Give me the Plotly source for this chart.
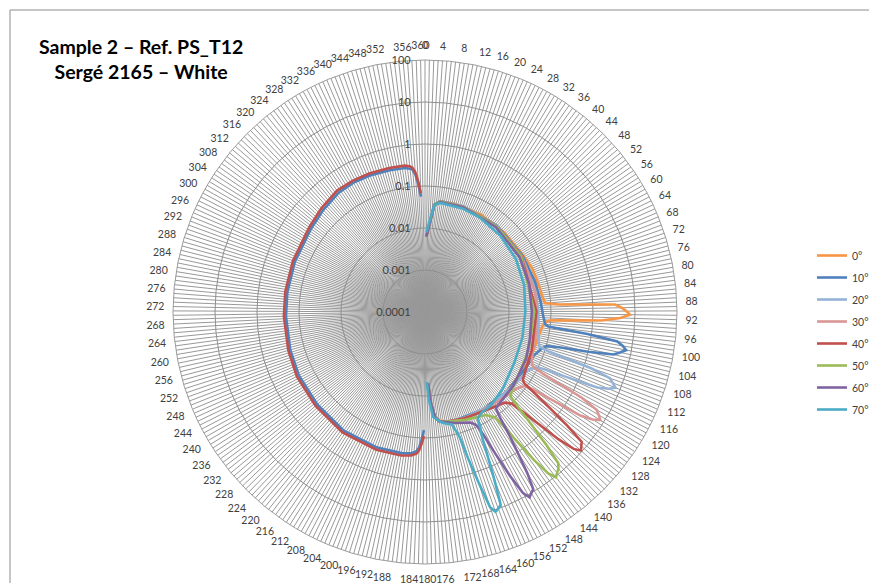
import plotly.graph_objects as go

# ---------------- data ----------------
categories = [str(i) for i in range(361)]
angle_labels = [str(i) if i % 4 == 0 else "" for i in range(361)]
radial_ticks = [0.0001, 0.001, 0.01, 0.1, 1, 10, 100]
radial_labels = ["0.0001", "0.001", "0.01", "0.1", "1", "10", "100"]
series_names = ["0°", "10°", "20°", "30°", "40°", "50°", "60°", "70°"]

s0_deg = [1, 5, 8, 15, 30, 45, 60, 68, 78, 83, 86, 87, 88, 89, 90, 91, 92, 93, 94, 95, 97, 102, 110, 120, 135, 150, 160, 168, 172, 175, 177, 178]
s0_val = [0.0062, 0.036, 0.045, 0.047, 0.047, 0.047, 0.05, 0.057, 0.062, 0.066, 0.073, 0.15, 3.4, 4.8, 6.2, 7.6, 4.5, 1.6, 0.1, 0.075, 0.066, 0.058, 0.055, 0.053, 0.051, 0.05, 0.049, 0.047, 0.043, 0.033, 0.014, 0.005]

s1_deg = [1, 5, 8, 20, 40, 60, 75, 85, 92, 96, 97, 98, 99, 100, 101, 102, 103, 104, 105, 106, 108, 112, 120, 135, 150, 165, 170, 173, 175, 177, 178,
          179,
          181, 182, 183, 184, 186, 190, 200, 215, 230, 244, 255, 269, 279, 292, 307, 316, 325, 332, 339, 347, 353, 355, 356, 357, 358, 359]
s1_val = [0.0063, 0.037, 0.046, 0.047, 0.047, 0.048, 0.052, 0.058, 0.065, 0.075, 0.09, 0.8, 4.3, 6.0, 7.5, 5.5, 4.0, 1.0, 0.2, 0.1, 0.08, 0.062, 0.055, 0.052, 0.05, 0.048, 0.046, 0.042, 0.033, 0.014, 0.005,
          None,
          0.065, 0.11, 0.17, 0.21, 0.24, 0.255, 0.265, 0.265, 0.24, 0.23, 0.215, 0.205, 0.205, 0.21, 0.23, 0.27, 0.32, 0.33, 0.32, 0.30, 0.29, 0.27, 0.25, 0.19, 0.11, 0.056]

s2_deg = [1, 5, 8, 20, 40, 60, 80, 90, 100, 105, 107, 108, 109, 110, 111, 112, 113, 114, 115, 116, 117, 120, 130, 145, 160, 170, 173, 175, 177, 178]
s2_val = [0.0064, 0.037, 0.046, 0.047, 0.046, 0.046, 0.048, 0.05, 0.055, 0.062, 0.07, 0.12, 1.5, 4.7, 6.0, 7.6, 5.5, 3.0, 0.5, 0.13, 0.085, 0.065, 0.055, 0.052, 0.049, 0.046, 0.042, 0.033, 0.014, 0.005]

s3_deg = [1, 5, 8, 20, 40, 60, 80, 90, 100, 110, 115, 117, 118, 119, 120, 121, 122, 123, 124, 125, 126, 127, 130, 140, 155, 165, 170, 173, 175, 177, 178]
s3_val = [0.0063, 0.037, 0.045, 0.046, 0.045, 0.045, 0.046, 0.046, 0.049, 0.054, 0.062, 0.075, 0.15, 1.8, 5.0, 6.5, 8.0, 5.5, 2.8, 0.5, 0.14, 0.09, 0.07, 0.057, 0.052, 0.049, 0.046, 0.042, 0.033, 0.014, 0.005]

s4_deg = [1, 5, 8, 20, 40, 60, 90, 110, 120, 125, 126, 127, 128, 129, 130, 131, 132, 133, 134, 135, 136, 137, 139, 148, 160, 169, 173, 175, 177, 178,
          179,
          181, 182, 183, 184, 186, 190, 200, 215, 230, 244, 255, 269, 279, 292, 307, 316, 325, 332, 339, 347, 353, 355, 356, 357, 358, 359]
s4_val = [0.0062, 0.036, 0.045, 0.046, 0.045, 0.045, 0.045, 0.05, 0.058, 0.068, 0.08, 0.2, 0.6, 2.2, 7.0, 8.0, 9.3, 6.5, 2.5, 0.6, 0.2, 0.1, 0.075, 0.057, 0.05, 0.046, 0.042, 0.033, 0.014, 0.005,
          None,
          0.09, 0.14, 0.2, 0.24, 0.27, 0.29, 0.30, 0.30, 0.27, 0.26, 0.24, 0.23, 0.23, 0.235, 0.26, 0.31, 0.37, 0.37, 0.36, 0.34, 0.33, 0.31, 0.28, 0.22, 0.13, 0.068]

s5_deg = [1, 5, 8, 20, 40, 60, 90, 110, 125, 132, 135, 136, 137, 138, 139, 140, 141, 142, 143, 144, 145, 146, 147, 150, 160, 169, 173, 175, 177, 178]
s5_val = [0.0063, 0.037, 0.045, 0.046, 0.045, 0.044, 0.04, 0.042, 0.05, 0.06, 0.072, 0.15, 0.5, 2.0, 6.3, 8.0, 9.0, 10.5, 7.0, 2.5, 0.6, 0.18, 0.1, 0.07, 0.055, 0.046, 0.042, 0.033, 0.014, 0.005]

s6_deg = [1, 5, 8, 20, 40, 60, 75, 90, 105, 115, 130, 140, 144, 145, 146, 147, 148, 149, 150, 151, 152, 153, 154, 155, 156, 158, 165, 170, 173, 175, 177, 178]
s6_val = [0.0063, 0.036, 0.044, 0.045, 0.043, 0.04, 0.037, 0.035, 0.038, 0.045, 0.055, 0.062, 0.07, 0.12, 0.35, 1.0, 3.5, 8.8, 10.0, 11.7, 8.0, 2.5, 0.6, 0.17, 0.09, 0.07, 0.055, 0.046, 0.042, 0.033, 0.014, 0.005]

s7_deg = [1, 5, 8, 20, 30, 45, 60, 75, 90, 105, 120, 135, 145, 151, 154, 155, 156, 157, 158, 159, 160, 161, 162, 163, 164, 165, 166, 167, 170, 172, 176, 178, 179]
s7_val = [0.008, 0.036, 0.042, 0.042, 0.040, 0.036, 0.032, 0.028, 0.0245, 0.025, 0.028, 0.04, 0.052, 0.056, 0.067, 0.12, 0.2, 0.6, 2.2, 8.5, 10.0, 11.0, 8.0, 1.8, 0.45, 0.12, 0.08, 0.057, 0.05, 0.045, 0.032, 0.012, 0.0046]

series_deg = [s0_deg, s1_deg, s2_deg, s3_deg, s4_deg, s5_deg, s6_deg, s7_deg]
series_val = [s0_val, s1_val, s2_val, s3_val, s4_val, s5_val, s6_val, s7_val]
colors = ["#F79646", "#4F81BD", "#95B3D7", "#D99694", "#C0504D", "#9BBB59", "#8064A2", "#4BACC6"]

# ---------------- figure ----------------
# The page places the figure 8 px in from the top-left corner, so the figure is
# 8 px smaller than the window and every pixel position below is (page px - 8).
W, H = 869, 575

fig = go.Figure()

# invisible helper so that all 361 categories exist on the angular axis
fig.add_trace(go.Scatterpolar(theta=categories, r=[0.0001] * len(categories), mode="markers",
                              marker=dict(opacity=0, size=1), showlegend=False, hoverinfo="skip"))

for name, degs, vals, col in zip(series_names, series_deg, series_val, colors):
    fig.add_trace(go.Scatterpolar(
        theta=[str(d) for d in degs], r=vals, mode="lines", name=name,
        line=dict(color=col, width=2.6), connectgaps=False, legendgroup=name))

fig.update_layout(
    width=W, height=H,
    margin=dict(l=0, r=0, t=0, b=0, autoexpand=False),
    paper_bgcolor="white",
    font=dict(family="Lato, 'Open Sans', sans-serif", color="#404040"),
    polar=dict(
        domain=dict(x=[165 / W, 669 / W], y=[1 - 556 / H, 1 - 52 / H]),
        bgcolor="white",
        angularaxis=dict(
            type="category", categoryorder="array", categoryarray=categories,
            rotation=90, direction="clockwise",
            tickmode="array", tickvals=categories, ticktext=angle_labels,
            ticks="outside", ticklen=6, tickcolor="rgba(0,0,0,0)",
            showgrid=True, gridcolor="#999999", gridwidth=1,
            showline=True, linecolor="#9c9c9c", linewidth=1,
            tickfont=dict(size=10.5, color="#404040"),
        ),
        radialaxis=dict(
            type="log", range=[-4, 2], tickmode="array",
            tickvals=radial_ticks, ticktext=radial_labels,
            angle=90, tickangle=90, side="counterclockwise",
            ticks="outside", ticklen=10, tickcolor="rgba(0,0,0,0)",
            showline=False, showgrid=True, gridcolor="#8f8f8f", gridwidth=1,
            tickfont=dict(size=11, color="#404040"),
        ),
    ),
    legend=dict(x=804 / W, y=1 - 233 / H, xref="container", yref="container",
                xanchor="left", yanchor="top",
                font=dict(size=10.5, color="#404040"), tracegroupgap=3,
                bgcolor="rgba(0,0,0,0)"),
    shapes=[dict(type="rect", xref="paper", yref="paper",
                 x0=2 / W, x1=1.02, y0=-0.02, y1=1 - 2 / H,
                 line=dict(color="#8c8c8c", width=1))],
    annotations=[dict(text="<b>Sample 2 – Ref. PS_T12<br>Sergé 2165 – White</b>",
                      x=132.5 / W, y=1 - 51 / H, xref="paper", yref="paper",
                      xanchor="center", yanchor="middle", showarrow=False,
                      font=dict(size=19.5, color="#000000", family="Lato, sans-serif"))],
)

fig.write_html("out.html")
